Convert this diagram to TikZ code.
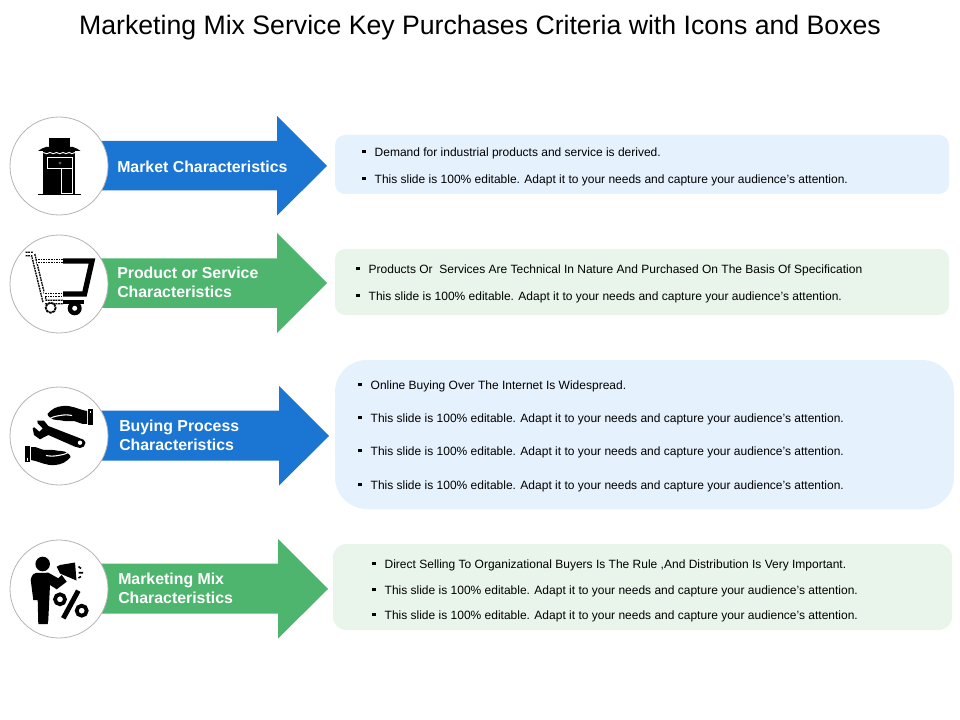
\documentclass[tikz,border=0pt]{standalone}
\usepackage{fontspec}
\setmainfont{Liberation Sans}
\definecolor{arrowblue}{HTML}{1B75D3}
\definecolor{arrowgreen}{HTML}{4EB56E}
\definecolor{boxblue}{HTML}{E5F1FC}
\definecolor{boxgreen}{HTML}{E9F4EB}
\definecolor{ringgray}{HTML}{B4B4B4}
\newcommand{\bulletmark}{\makebox[9.3pt][l]{\raisebox{2.1pt}{\rule{2.6pt}{2.6pt}}}}
\newcommand{\dashband}[1]{%
  \draw[black,line width=3.6pt,line join=round] #1;
  \draw[white,line width=1.4pt,line join=round] #1;
  \draw[white,line width=3.8pt,dash pattern=on 0.45pt off 1.5pt] #1;}
\newcommand{\handshape}{%
  \fill[black] (88.3,409.3) rectangle (92.8,425);
  \fill[white] (90,410.5) rectangle (91.4,413);
  \fill[black] (47.5,414) to[out=50,in=185] (63,406) to[out=5,in=170] (87,411) -- (87,424) to[out=190,in=10] (70,421) to[out=190,in=0] (57,420) to[out=180,in=-40] (50,417.5) to[out=140,in=-90] (47.5,414) -- cycle;
  \draw[white,line width=0.8pt] (50,418.5) to[out=30,in=190] (60,415.5) to[out=10,in=170] (72,415.5);}
\tikzset{
  titletext/.style={font=\fontsize{20pt}{24pt}\selectfont,text=black,inner sep=0pt},
  arrowlabel/.style={font=\fontsize{11.9pt}{14.25pt}\selectfont\bfseries,text=white,align=left,anchor=west,inner sep=0pt},
  rowtext/.style={font=\fontsize{9pt}{11pt}\selectfont,text=black,anchor=west,inner sep=0pt},
  ring/.style={circle,draw=ringgray,line width=0.6pt,fill=white,minimum size=73.5pt,inner sep=0pt},
}
\begin{document}
\begin{tikzpicture}[x=0.75pt,y=-0.75pt]
\useasboundingbox (0,0) rectangle (960,720);
\node[titletext] (title) at (480,28) {Marketing Mix Service Key Purchases Criteria with Icons and Boxes};

% panels
\fill[boxblue,rounded corners=7.5pt] (335,135) rectangle (949,194);
\fill[boxgreen,rounded corners=7.5pt] (335,249) rectangle (949,315);
\fill[boxblue,rounded corners=24pt] (335,360) rectangle (954,509);
\fill[boxgreen,rounded corners=10pt] (333,544) rectangle (952,630);

% arrows
\fill[arrowblue] (90,141) -- (277,141) -- (277,116) -- (327,166) -- (277,215.5) -- (277,190.5) -- (90,190.5) -- cycle;
\fill[arrowgreen] (90,258.5) -- (277,258.5) -- (277,233) -- (327,283) -- (277,333) -- (277,308) -- (90,308) -- cycle;
\fill[arrowblue] (90,410.5) -- (279,410.5) -- (279,386) -- (329,436) -- (279,485.5) -- (279,460.5) -- (90,460.5) -- cycle;
\fill[arrowgreen] (90,563.5) -- (278,563.5) -- (278,539) -- (328,589) -- (278,638.5) -- (278,613.5) -- (90,613.5) -- cycle;

% circles
\node[ring] (c1) at (59,166) {};
\node[ring] (c2) at (59,284) {};
\node[ring] (c3) at (59,436) {};
\node[ring] (c4) at (59,589) {};

% labels
\node[arrowlabel] (l1) at (117,166.7) {Market Characteristics};
\node[arrowlabel] (l2) at (117,282) {Product or Service\\Characteristics};
\node[arrowlabel] (l3) at (119,435) {Buying Process\\Characteristics};
\node[arrowlabel] (l4) at (118,588) {Marketing Mix\\Characteristics};

% rows
\node[rowtext] (r11) at (362,153) {\bulletmark Demand for industrial products and service is derived.};
\node[rowtext] (r12) at (362,180) {\bulletmark This slide is 100\% editable. Adapt it to your needs and capture your audience's attention.};
\node[rowtext] (r21) at (356,270) {\bulletmark Products Or\ \ Services Are Technical In Nature And Purchased On The Basis Of Specification};
\node[rowtext] (r22) at (356,297) {\bulletmark This slide is 100\% editable. Adapt it to your needs and capture your audience's attention.};
\node[rowtext] (r31) at (358,386) {\bulletmark Online Buying Over The Internet Is Widespread.};
\node[rowtext] (r32) at (358,419) {\bulletmark This slide is 100\% editable. Adapt it to your needs and capture your audience's attention.};
\node[rowtext] (r33) at (358,452) {\bulletmark This slide is 100\% editable. Adapt it to your needs and capture your audience's attention.};
\node[rowtext] (r34) at (358,486) {\bulletmark This slide is 100\% editable. Adapt it to your needs and capture your audience's attention.};
\node[rowtext] (r41) at (372,565) {\bulletmark Direct Selling To Organizational Buyers Is The Rule ,And Distribution Is Very Important.};
\node[rowtext] (r42) at (372,591) {\bulletmark This slide is 100\% editable. Adapt it to your needs and capture your audience's attention.};
\node[rowtext] (r43) at (372,616) {\bulletmark This slide is 100\% editable. Adapt it to your needs and capture your audience's attention.};

% shop icon
\fill[black] (49.3,138) rectangle (70,147.5);
\fill[black] (46,147) -- (73,147) to[out=-10,in=150] (80.5,151) -- (38,151) to[out=30,in=190] (46,147) -- cycle;
\fill[black] (43.3,150) rectangle (75,195);
\fill[black] (38.3,193.7) rectangle (80.5,195.5);
\draw[white,line width=0.7pt] (43.3,152.5) to[bend right=40] (50,152.5) to[bend right=40] (56.5,152.5) to[bend right=40] (63,152.5) to[bend right=40] (69,152.5) to[bend right=40] (75,152.5);
\draw[white,line width=0.6pt] (47.3,157.7) rectangle (72.7,168.7);
\draw[white,line width=0.6pt] (61.7,168.7) -- (61.7,193.7) -- (72.7,193.7) -- (72.7,168.7);
\fill[black!65] (60,163) circle (1.6);

% cart icon
\draw[black,line width=4pt,line join=miter] (63,261) -- (92,261) -- (84.5,294) -- (63,294);
\dashband{(25,254) -- (33,254) -- (44.7,302) -- (63,302)}
\dashband{(37,261) -- (63,261)}
\dashband{(44,295) -- (63,295)}
\fill[black] (63,300.5) rectangle (84,304);
\fill[black] (74.7,308.3) circle (7);
\fill[white] (74.7,308.3) circle (2.5);
\fill[white] (50.7,307.7) circle (5.5);
\draw[black,line width=1.4pt,dash pattern=on 2pt off 0.5pt] (50.7,307.7) circle (5);

% hands and wrench icon
\handshape
\begin{scope}[rotate around={180:(59,435.5)}]
\handshape
\end{scope}
\fill[black] (37.3,420.7) -- (44,420.7) -- (48.3,426) -- (80,438.3) to[out=-20,in=90] (85.5,442.7) to[out=-90,in=0] (80,448) to[out=180,in=-20] (75,446.7) -- (48.3,435) -- (40,439.3) -- (34,435) -- (32.7,428.3) -- (34.3,427.3) -- (39.3,431.7) -- (42.7,428.3) -- (37.7,423.3) -- cycle;
\fill[white] (80,442.7) circle (2.2);

% person with megaphone and percent icon
\fill[black] (42.7,564) circle (7.3);
\fill[black] (36,573) -- (48.3,572.7) -- (58.3,578.3) -- (61.7,575) -- (66.7,581.7) -- (56.7,589.3) -- (50,585) -- (48.3,620) -- (47.7,624) -- (38.3,624) -- (37.7,600) -- (33.3,600) -- (30.7,580) to[out=80,in=190] (36,573) -- cycle;
\fill[black] (56.7,566.7) -- (60,565) -- (72,563) -- (75,562.5) -- (76.5,580.5) -- (73,579) -- (60,573.5) -- cycle;
\draw[black,line width=1.2pt] (78.5,566.5) -- (81,568.5) (78.5,572.7) -- (83,572.7) (78.5,578) -- (81,576.5);
\draw[black,line width=2.8pt] (60,599.3) circle (5);
\draw[black,line width=2.8pt] (81.7,610.7) circle (5);
\draw[black,line width=3.7pt] (78.3,590.7) -- (63.3,618.3);
\end{tikzpicture}
\end{document}
